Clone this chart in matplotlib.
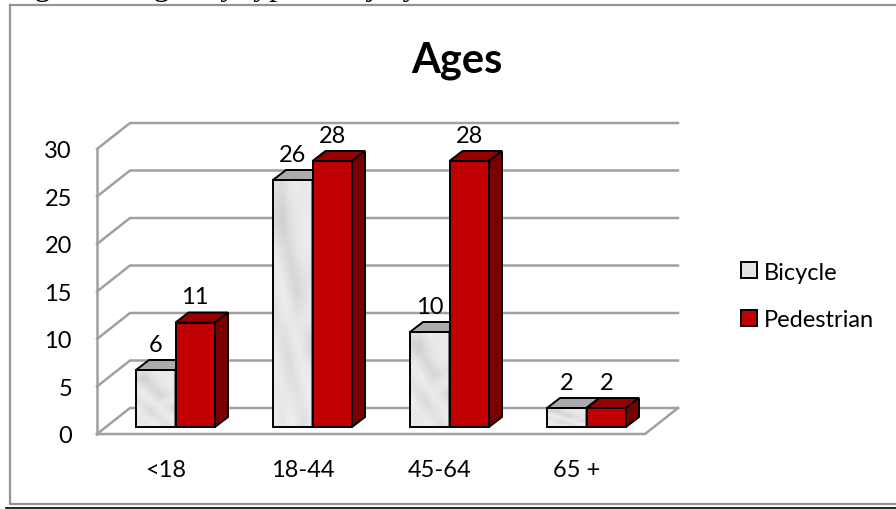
import matplotlib
matplotlib.use('Agg')
import matplotlib.pyplot as plt
from matplotlib.patches import Patch, Polygon, Rectangle
import numpy as np

plt.rcParams['font.family'] = ['Lato', 'DejaVu Sans']

categories = ['<18', '18-44', '45-64', '65 +']
bicycle = [6, 26, 10, 2]
pedestrian = [11, 28, 28, 2]
y_ticks = [0, 5, 10, 15, 20, 25, 30]

# grey levels for the marble look of the bicycle bars
marble = [
    [0.88, 0.86, 0.91, 0.93, 0.90, 0.92],
    [0.82, 0.77, 0.89, 0.88, 0.93, 0.91],
    [0.90, 0.84, 0.85, 0.92, 0.91, 0.94],
    [0.93, 0.91, 0.81, 0.86, 0.92, 0.88],
    [0.91, 0.94, 0.90, 0.80, 0.84, 0.91],
    [0.86, 0.92, 0.93, 0.89, 0.92, 0.93],
    [0.92, 0.84, 0.89, 0.94, 0.88, 0.82],
    [0.94, 0.90, 0.81, 0.91, 0.93, 0.90],
    [0.89, 0.93, 0.91, 0.85, 0.92, 0.94],
    [0.93, 0.88, 0.94, 0.92, 0.86, 0.91],
]

W, H = 896, 510
PX_X = 137    # pixels per category
PX_Y = 9.5    # pixels per value unit
DEPTH_X = 33 / PX_X
DEPTH_Y = 26 / PX_Y
BAR_W = 39.5 / PX_X
BAR_DX = 13 / PX_X
BAR_DY = 10 / PX_Y
BAR_LIFT = 7 / PX_Y
BAR_SHIFT = 39 / PX_X
GRID = '#a0a0a0'
EDGE = 1.4


def draw_bar(ax, x, value, front, top, side, z):
    y0 = BAR_LIFT
    y1 = BAR_LIFT + value
    x1 = x + BAR_W
    if front == 'marble':
        ax.imshow(marble, cmap='gray', vmin=0, vmax=1, aspect='auto', interpolation='bicubic',
                  extent=(x, x1, y0, y1), zorder=z, clip_on=False)
        fill = 'none'
    else:
        fill = front
    ax.add_patch(Rectangle((x, y0), BAR_W, value, facecolor=fill, edgecolor='black', lw=EDGE, zorder=z + 0.1, clip_on=False))
    ax.add_patch(Polygon([(x, y1), (x + BAR_DX, y1 + BAR_DY), (x1 + BAR_DX, y1 + BAR_DY), (x1, y1)],
                         facecolor=top, edgecolor='black', lw=EDGE, zorder=z, clip_on=False))
    ax.add_patch(Polygon([(x1, y0), (x1 + BAR_DX, y0 + BAR_DY), (x1 + BAR_DX, y1 + BAR_DY), (x1, y1)],
                         facecolor=side, edgecolor='black', lw=EDGE, zorder=z, clip_on=False))
    ax.annotate(str(value), (x + BAR_W / 2, y1), xytext=(0, 18.5), textcoords='offset points',
                ha='center', va='center', fontsize=17, color='black', zorder=20, annotation_clip=False)


fig = plt.figure(figsize=(W / 100, H / 100), dpi=100)
ax = fig.add_axes([97 / W, (H - 435) / H, 548 / W, 285 / H])
ax.patch.set_alpha(0)
for s in ax.spines.values():
    s.set_visible(False)

# walls and floor
ax.plot([0, 0], [0, 30], color=GRID, lw=1.8, clip_on=False, zorder=1)
for v in y_ticks:
    ax.plot([0, DEPTH_X, 4 + DEPTH_X], [v, v + DEPTH_Y, v + DEPTH_Y], color=GRID, lw=1.8, clip_on=False, zorder=1)
ax.plot([0, 4, 4 + DEPTH_X], [0, 0, DEPTH_Y], color=GRID, lw=1.8, clip_on=False, zorder=1)

z = 2
for i in range(len(categories)):
    x = i + BAR_SHIFT
    draw_bar(ax, x, bicycle[i], 'marble', '#a9abae', '#8c8c8c', z)
    draw_bar(ax, x + BAR_W, pedestrian[i], '#c00000', '#960000', '#780000', z + 1)
    z += 2
ax.set_xlim(0, 4)
ax.set_ylim(0, 30)

ax.set_xticks(np.arange(len(categories)) + 0.5)
ax.set_xticklabels(categories, fontsize=17)
ax.set_yticks(y_ticks)
ax.tick_params(axis='x', length=0, pad=18)
ax.tick_params(axis='y', length=0, pad=18, labelsize=17)

fig.text(457 / W, 1 - 61 / H, 'Ages', fontsize=30, fontweight='bold', ha='center', va='center')

handles = [Patch(facecolor='#e2e3e6', edgecolor='black', lw=EDGE, label='Bicycle'),
           Patch(facecolor='#c00000', edgecolor='black', lw=EDGE, label='Pedestrian')]
fig.legend(handles=handles, loc='center left', bbox_to_anchor=(741 / W, 1 - 297 / H), frameon=False, fontsize=17,
           handlelength=0.68, handleheight=0.68, handletextpad=0.3, labelspacing=1.13, borderpad=0, borderaxespad=0)

# chart frame, rule below it and the cut off caption line above
fig.add_artist(plt.Line2D([10 / W, 10 / W, 1], [1 - 6 / H, 1 - 505 / H, 1 - 505 / H], color='#949494', lw=1.6))
fig.add_artist(plt.Line2D([10 / W, 1], [1 - 6 / H, 1 - 6 / H], color='#949494', lw=1.6))
fig.add_artist(plt.Line2D([6 / W, 1], [1 - 509 / H, 1 - 509 / H], color='black', lw=1.2))
fig.text(8 / W, 1 + 5 / H, 'Figure 1: Ages by type of injury', family='Liberation Serif', fontsize=23, va='baseline')

fig.savefig('out.png', dpi=100)
